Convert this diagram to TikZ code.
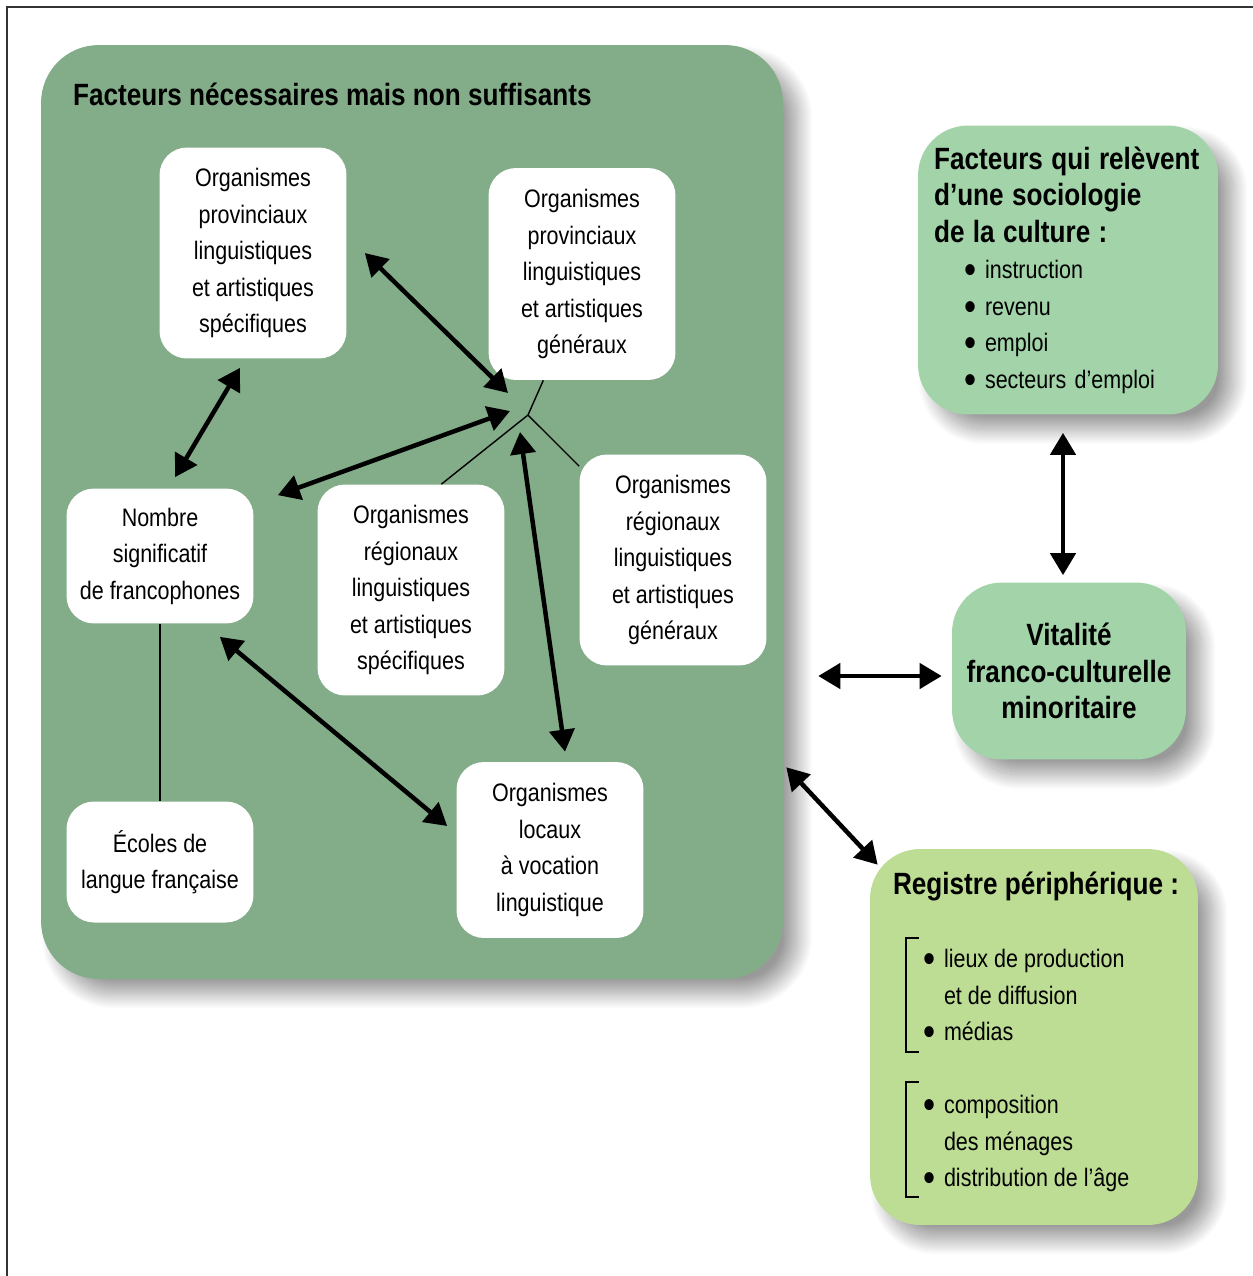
\documentclass[tikz,border=0pt]{standalone}
\usepackage{fontspec}
\setmainfont{Liberation Sans}[FakeStretch=0.85]
\usetikzlibrary{arrows.meta, calc, shadows.blur}
\definecolor{cvert}{HTML}{83AD89}
\definecolor{cvertclair}{HTML}{A3D4A9}
\definecolor{cvertjaune}{HTML}{BDDC94}
\definecolor{ccadre}{HTML}{333333}

\newcommand{\corpsfont}{\fontsize{14.4pt}{20.8pt}\selectfont}
\newcommand{\grasfont}{\fontsize{17.5pt}{20.8pt}\selectfont\bfseries}
\newcommand{\puce}[1]{\hspace*{0.6cm}\makebox[0.42cm][l]{\raisebox{-0.2em}{\scalebox{1.6}{•}}}#1}
\newcommand{\suite}[1]{\hspace*{1.02cm}#1}

\tikzset{
  orgbox/.style={fill=white, rounded corners=0.55cm, minimum width=3.74cm, align=center, inner sep=0pt, font=\corpsfont},
  facbox/.style={rounded corners=1cm, blur shadow={shadow xshift=0.3cm, shadow yshift=-0.3cm, shadow blur radius=0.3cm, shadow blur steps=30, shadow opacity=40}},
  fleche/.style={{Triangle[length=0.44cm,width=0.5cm]}-{Triangle[length=0.44cm,width=0.5cm]}, line width=0.09cm},
  liaison/.style={line width=0.8pt},
  crochet/.style={line width=1.2pt},
}

\begin{document}
\begin{tikzpicture}[x=0.02cm, y=-0.02cm]
  \useasboundingbox (0,0) rectangle (1253,1276);
  \draw[ccadre, line width=1.2pt] (7,1276) -- (7,7) -- (1253,7);

  % Facteurs necessaires
  \node[facbox, fill=cvert, rounded corners=1.15cm, minimum width=14.84cm, minimum height=18.68cm] (cadre) at (412,512) {};
  \node[font=\grasfont, anchor=west, inner sep=0pt] (titrecadre) at ($(cadre.north west)+(32,50)$) {Facteurs nécessaires mais non suffisants};

  \node[orgbox, minimum height=4.22cm] (provspec) at (253,253) {Organismes\\provinciaux\\linguistiques\\et artistiques\\spécifiques};
  \node[orgbox, minimum height=4.24cm] (provgen) at (582,274) {Organismes\\provinciaux\\linguistiques\\et artistiques\\généraux};
  \node[orgbox, minimum height=2.7cm] (nombre) at (160,556) {Nombre\\significatif\\de francophones};
  \node[orgbox, minimum height=4.22cm] (regspec) at (411,590) {Organismes\\régionaux\\linguistiques\\et artistiques\\spécifiques};
  \node[orgbox, minimum height=4.22cm] (reggen) at (673,560) {Organismes\\régionaux\\linguistiques\\et artistiques\\généraux};
  \node[orgbox, minimum height=2.42cm] (ecoles) at (160,862) {Écoles de\\langue française};
  \node[orgbox, minimum height=3.52cm] (locaux) at (550,850) {Organismes\\locaux\\à vocation\\linguistique};

  % Facteurs exterieurs
  \node[facbox, fill=cvertclair, minimum width=6cm, minimum height=5.78cm, text width=5.36cm, inner xsep=0.32cm, align=left, font=\corpsfont] (socio) at (1068,270) {{\grasfont Facteurs qui relèvent}\\{\grasfont d’une sociologie}\\{\grasfont de la culture :}\\\puce{instruction}\\\puce{revenu}\\\puce{emploi}\\\puce{secteurs d’emploi}};
  \node[facbox, fill=cvertclair, minimum width=4.68cm, minimum height=3.54cm, align=center, font=\grasfont] (vitalite) at (1069,671) {Vitalité\\franco-culturelle\\minoritaire};
  \node[facbox, fill=cvertjaune, minimum width=6.56cm, minimum height=7.52cm] (registre) at (1034,1037) {};
  \node[anchor=north west, inner sep=0pt, align=left, font=\corpsfont] (registretexte) at ($(registre.north west)+(23,23)$) {{\grasfont Registre périphérique :}\\[0.73cm]\puce{lieux de production}\\\suite{et de diffusion}\\\puce{médias}\\[0.73cm]\puce{composition}\\\suite{des ménages}\\\puce{distribution de l’âge}};
  \draw[crochet] ($(registre.north west)+(49,89)$) -- ++(-13,0) -- ++(0,114) -- ++(13,0);
  \draw[crochet] ($(registre.north west)+(49,233)$) -- ++(-13,0) -- ++(0,115) -- ++(13,0);

  % liaisons
  \coordinate (J) at (528,415);
  \draw[liaison] (provgen.250) -- (J) -- (regspec.74);
  \draw[liaison] (J) -- (reggen.135);
  \draw[liaison] (nombre) -- (ecoles);

  % fleches
  \draw[fleche] ($(provspec.east)+(18,0)$) -- ($(J)+(-20,-22)$);
  \draw[fleche] ($(nombre.north)+(15,-11)$) -- ($(provspec.south)+(-13,9)$);
  \draw[fleche] ($(nombre.north east)+(24,7)$) -- ($(J)+(-18,-4)$);
  \draw[fleche] ($(J)+(-8,17)$) -- ($(locaux.north)+(15,-10)$);
  \draw[fleche] ($(nombre.south east)+(-34,13)$) -- ($(locaux.west)+(-9,-24)$);
  \draw[fleche] ($(cadre.east |- vitalite.west)+(35,5)$) -- ($(vitalite.west)+(-10,5)$);
  \draw[fleche] ($(socio.south)+(-5,18)$) -- ($(vitalite.north)+(-6,-7)$);
  \draw[fleche] ($(cadre.south east)+(3,-212)$) -- ($(registre.north west)+(8,16)$);
\end{tikzpicture}
\end{document}
